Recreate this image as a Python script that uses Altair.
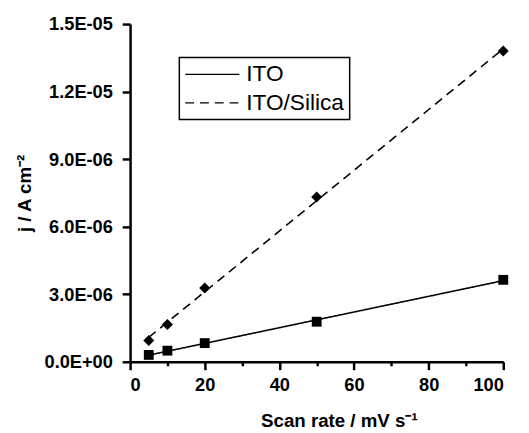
import json
import altair as alt
import pandas as pd

# ---- data ----
scan_rate = [5, 10, 20, 50, 100]
ito = [0.306e-6, 0.494e-6, 0.83e-6, 1.78e-6, 3.64e-6]
ito_silica = [0.95e-6, 1.66e-6, 3.28e-6, 7.32e-6, 13.8e-6]
series_names = ["ITO", "ITO/Silica"]

x_ticks = [0, 10, 20, 30, 40, 50, 60, 70, 80, 90, 100]
y_ticks = [0, 3e-6, 6e-6, 9e-6, 1.2e-5, 1.5e-5]
y_tick_labels = ["0.0E+00", "3.0E-06", "6.0E-06", "9.0E-06", "1.2E-05", "1.5E-05"]

df = pd.DataFrame({
    "rate": scan_rate + scan_rate,
    "j": ito + ito_silica,
    "series": [series_names[0]] * len(scan_rate) + [series_names[1]] * len(scan_rate),
})
df["marker"] = df["series"]

FONT = "Liberation Sans"

y_label_expr = json.dumps(y_tick_labels) + "[round(datum.value / 3e-6)]"

x_enc = alt.X(
    "rate:Q",
    scale=alt.Scale(domain=[0, 100], nice=False, zero=False),
    axis=alt.Axis(
        values=x_ticks,
        title="Scan rate / mV s⁻¹",
        labelExpr="datum.value % 20 === 0 ? datum.label : ''",
        tickSize={"condition": {"test": "datum.value % 20 === 0", "value": 8}, "value": 4},
        labelPadding=6,
        titleX=212,
        titleY=60,
        titleBaseline="middle",
    ),
)
y_enc = alt.Y(
    "j:Q",
    scale=alt.Scale(domain=[0, 1.5e-5], nice=False),
    axis=alt.Axis(
        values=y_ticks,
        labelExpr=y_label_expr,
        title="j / A cm⁻²",
        tickSize=8,
        labelPadding=10,
        titleX=-107,
        titleY=171.5,
        titleBaseline="middle",
    ),
)

lines = (
    alt.Chart(df)
    .transform_regression("rate", "j", groupby=["series"])
    .mark_line(color="black", strokeWidth=1.6)
    .encode(
        x=x_enc,
        y=y_enc,
        strokeDash=alt.StrokeDash(
            "series:N",
            scale=alt.Scale(domain=series_names, range=[[1, 0], [9, 6]]),
            legend=alt.Legend(
                title=None,
                orient="none",
                legendX=50,
                legendY=34,
                symbolType="M-1,0H4",
                symbolSize=484,
                symbolStrokeWidth=1.3,
                symbolStrokeColor="black",
                labelFont=FONT,
                labelFontSize=23,
                labelColor="black",
                labelOffset=39,
                rowPadding=5,
                padding=5,
                strokeColor="black",
                fillColor="white",
            ),
        ),
    )
)

points = (
    alt.Chart(df)
    .mark_point(filled=True, opacity=1, color="black")
    .encode(
        x=x_enc,
        y=y_enc,
        shape=alt.Shape(
            "marker:N",
            scale=alt.Scale(domain=series_names, range=["square", "diamond"]),
            legend=None,
        ),
        size=alt.Size(
            "marker:N",
            scale=alt.Scale(domain=series_names, range=[100, 125]),
            legend=None,
        ),
    )
)

chart = (
    alt.layer(lines, points)
    .resolve_legend(shape="independent", size="independent", strokeDash="independent")
    .properties(
        width=379,
        height=343,
        autosize=alt.AutoSizeParams(type="none"),
        padding={"left": 124, "top": 13, "right": 18, "bottom": 69},
        background="white",
    )
    .configure_view(stroke=None)
    .configure_legend(strokeWidth=1.5)
    .configure_axis(
        grid=False,
        domainColor="black",
        domainWidth=2.5,
        tickColor="black",
        tickWidth=2.5,
        labelFont=FONT,
        labelFontSize=18.5,
        labelFontWeight="bold",
        labelColor="black",
        titleFont=FONT,
        titleFontSize=19,
        titleFontWeight="bold",
        titleColor="black",
    )
)

chart.save("out.html", embed_options={"renderer": "svg", "actions": False})
